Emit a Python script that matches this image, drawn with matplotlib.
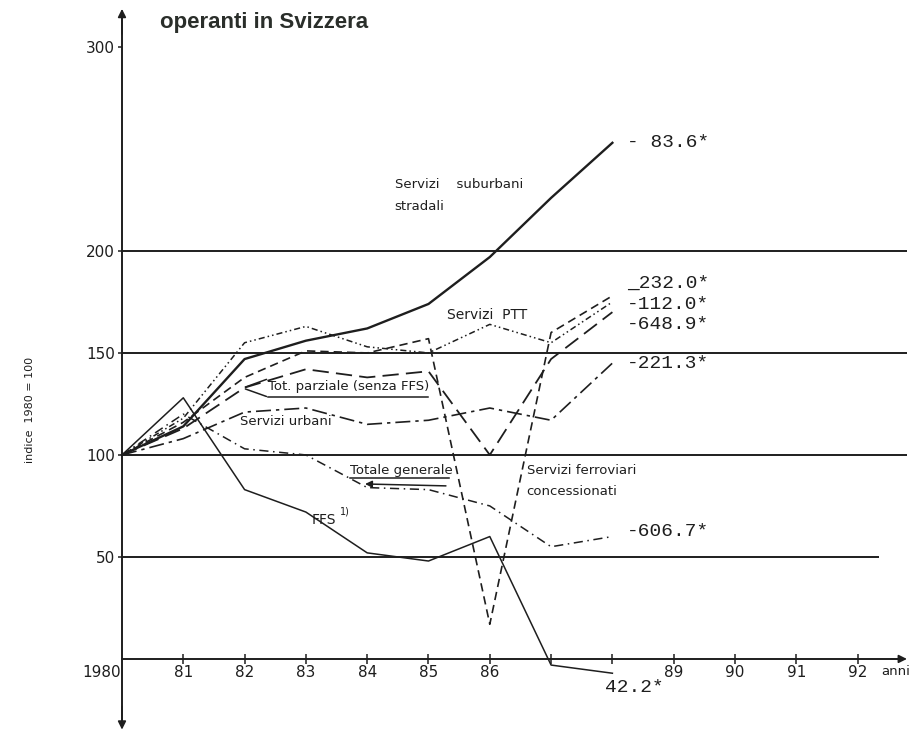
import matplotlib.pyplot as plt

# dati (indice 1980 = 100)
anni = [1980, 1981, 1982, 1983, 1984, 1985, 1986, 1987, 1988]
suburbani = [100, 114, 147, 156, 162, 174, 197, 226, 253]
ptt = [100, 118, 155, 163, 153, 150, 164, 155, 175]
concessionati = [100, 116, 138, 151, 150, 157, 17, 160, 178]
tot_parziale = [100, 113, 133, 142, 138, 141, 100, 147, 170]
urbani = [100, 108, 121, 123, 115, 117, 123, 117, 145]
totale = [100, 120, 103, 100, 84, 83, 75, 55, 60]
ffs = [100, 128, 83, 72, 52, 48, 60, -3, -7]

etichette_fine = ['- 83.6*', '_232.0*', '-112.0*', '-648.9*', '-221.3*', '-606.7*', '42.2*']
y_etichette = [253, 184, 173.5, 163.7, 145, 62.3, -14.2]

xtick_anni = list(range(1981, 1993))
xtick_lab = ['81', '82', '83', '84', '85', '86', '', '', '89', '90', '91', '92']
ytick_val = [50, 100, 150, 200, 300]

nero = '#1e1e1e'

fig = plt.figure(figsize=(9.1, 7.33), dpi=100)
ax = fig.add_axes([0, 0, 1, 1])
ax.set_xlim(1978.01, 1992.855)
ax.set_ylim(-36.3, 323.0)

# assi
for s in ['top', 'right']:
    ax.spines[s].set_visible(False)
ax.spines['left'].set_position(('data', 1980))
ax.spines['bottom'].set_position(('data', 0))
ax.spines['left'].set_bounds(-33, 316)
ax.spines['bottom'].set_bounds(1980, 1992.7)
for s in ['left', 'bottom']:
    ax.spines[s].set_color(nero)
    ax.spines[s].set_linewidth(1.4)

ax.annotate('', xy=(1980, 320), xytext=(1980, 305),
            arrowprops=dict(arrowstyle='-|>', color=nero, lw=1.2, mutation_scale=12))
ax.annotate('', xy=(1980, -36), xytext=(1980, -22),
            arrowprops=dict(arrowstyle='-|>', color=nero, lw=1.2, mutation_scale=12))
ax.annotate('', xy=(1992.85, 0), xytext=(1992.5, 0),
            arrowprops=dict(arrowstyle='-|>', color=nero, lw=1.2, mutation_scale=12))

ax.set_xticks(xtick_anni)
ax.set_xticklabels(xtick_lab)
ax.set_yticks(ytick_val)
ax.set_yticklabels([str(v) for v in ytick_val])
ax.tick_params(axis='x', direction='inout', length=7, width=1.1, pad=1,
               labelsize=11, colors=nero)
ax.tick_params(axis='y', direction='out', length=3, width=1.1, pad=2,
               labelsize=11, colors=nero)
ax.text(1979.98, -3, '1980', ha='right', va='top', fontsize=11, color=nero)
ax.text(1992.38, -3, 'anni', ha='left', va='top', fontsize=9.5, color=nero)

# linee orizzontali
ax.hlines([50, 100, 150, 200], 1980, [1992.35, 1992.8, 1992.8, 1992.8],
          color=nero, lw=1.4)

# serie
ax.plot(anni, suburbani, color=nero, lw=1.7, ls='-')
ax.plot(anni, ffs, color=nero, lw=1.1, ls='-')
ax.plot(anni, ptt, color=nero, lw=1.1, ls=(0, (4, 2, 1, 2, 1, 2)))
ax.plot(anni, concessionati, color=nero, lw=1.2, ls=(0, (5, 3)))
ax.plot(anni, tot_parziale, color=nero, lw=1.3, ls=(0, (9, 4)))
ax.plot(anni, urbani, color=nero, lw=1.2, ls=(0, (9, 3, 2, 3)))
ax.plot(anni, totale, color=nero, lw=1.1, ls=(0, (6, 3, 1, 3)))

# etichette finali
for lab, yv in zip(etichette_fine, y_etichette):
    xv = 1988.24 if lab != '42.2*' else 1987.88
    ax.text(xv, yv, lab, ha='left', va='center', fontsize=14,
            family='Liberation Mono', color=nero)

# didascalie
ax.text(1984.45, 232.4, 'Servizi    suburbani', fontsize=9.5, va='center', color=nero)
ax.text(1984.45, 221.6, 'stradali', fontsize=9.5, va='center', color=nero)
ax.text(1985.3, 168.6, 'Servizi  PTT', fontsize=10, va='center', color=nero)
ax.text(1982.38, 133.6, 'Tot. parziale (senza FFS)', fontsize=9.5, va='center', color=nero)
ax.plot([1982.38, 1985.0], [128.2, 128.2], color=nero, lw=1.1)
ax.annotate('', xy=(1981.97, 132.8), xytext=(1982.4, 128.2),
            arrowprops=dict(arrowstyle='-', color=nero, lw=1.1))
ax.annotate('', xy=(1981.97, 132.8), xytext=(1982.4, 137.5),
            arrowprops=dict(arrowstyle='-', color=nero, lw=1.1))
ax.text(1981.93, 116.2, 'Servizi urbani', fontsize=9.5, va='center', color=nero)
ax.text(1983.72, 92.6, 'Totale generale', fontsize=9.5, va='center', color=nero)
ax.plot([1983.72, 1985.33], [88.7, 88.7], color=nero, lw=1.1)
ax.annotate('', xy=(1983.92, 85.8), xytext=(1985.33, 84.8),
            arrowprops=dict(arrowstyle='-|>', color=nero, lw=1.1, mutation_scale=10))
ax.text(1986.6, 92.6, 'Servizi ferroviari', fontsize=9.5, va='center', color=nero)
ax.text(1986.6, 81.9, 'concessionati', fontsize=9.5, va='center', color=nero)
ax.text(1983.1, 68.1, 'FFS', fontsize=10, va='center', color=nero)
ax.text(1983.56, 72.5, '1)', fontsize=7, va='center', color=nero)

ax.text(1978.5, 122, 'indice  1980 = 100', rotation=90, fontsize=8,
        ha='center', va='center', color=nero)
ax.text(1980.62, 312, 'operanti in Svizzera', fontsize=16, fontweight='bold',
        family='Liberation Sans', va='center', color='#2a2e2a')

fig.savefig('out.png', dpi=100)
